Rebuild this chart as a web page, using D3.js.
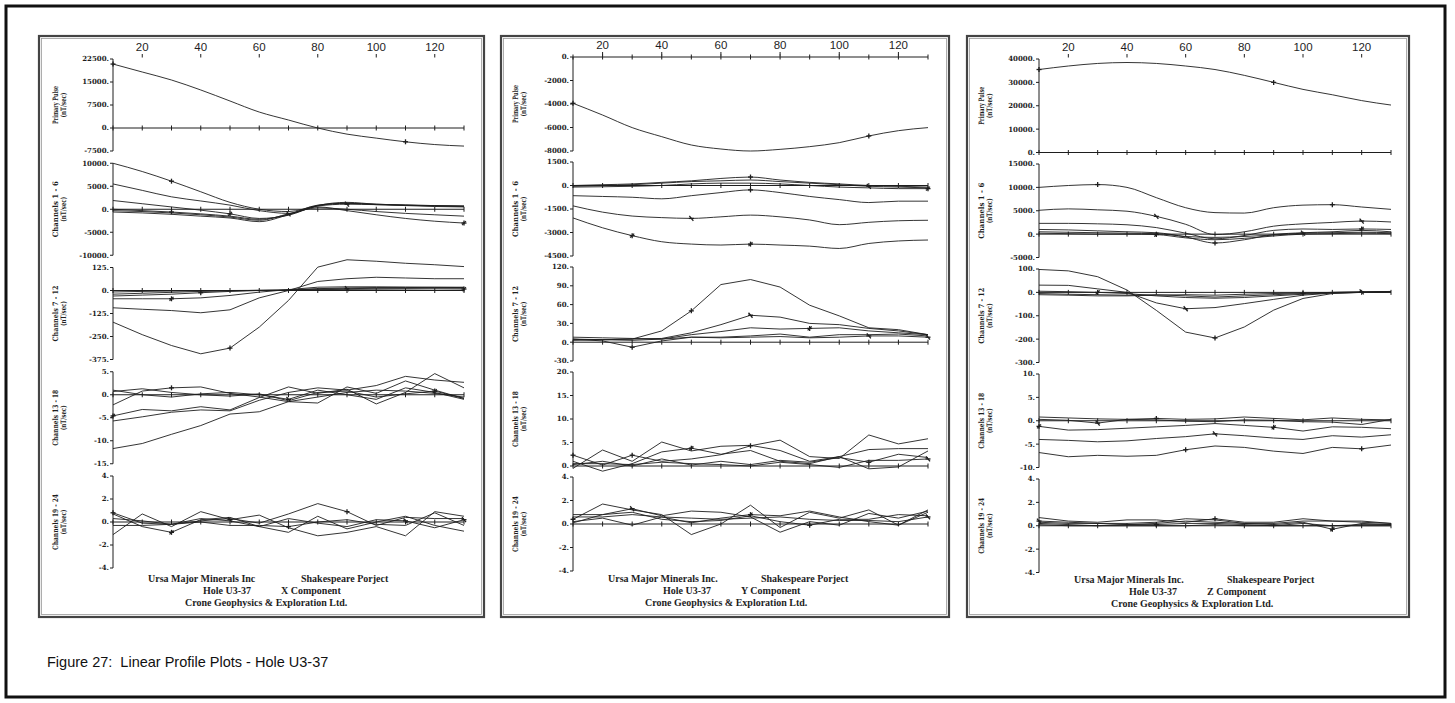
<!DOCTYPE html>
<html><head><meta charset="utf-8">
<script src="https://cdn.jsdelivr.net/npm/d3@7"></script>
<style>body{margin:0;background:#fff}svg{display:block}text{white-space:pre}</style>
</head><body><svg id="c" width="1455" height="703"></svg>
<script>
// ---------- DATA ----------
const stations = [10,20,30,40,50,60,70,80,90,100,110,120,130];
const xTickValues = [20,40,60,80,100,120];
const subplotNames = ["Primary Pulse","Channels 1 - 6","Channels 7 - 12","Channels 13 - 18","Channels 19 - 24"];
const unitLabel = "(nT/sec)";
const componentNames = ["X Component","Y Component","Z Component"];
const companyNames = ["Ursa Major Minerals Inc","Ursa Major Minerals Inc.","Ursa Major Minerals Inc."];
const projectName = "Shakespeare Porject";
const holeName = "Hole U3-37";
const contractorName = "Crone Geophysics & Exploration Ltd.";
const figureCaption = "Figure 27:  Linear Profile Plots - Hole U3-37";

// y tick values per subplot (X, Y, Z components)
const xYTicks = [[22500,15000,7500,0,-7500],[10000,5000,0,-5000,-10000],[125,0,-125,-250,-375],[5,0,-5,-10,-15],[4,2,0,-2,-4]];
const yYTicks = [[0,-2000,-4000,-6000,-8000],[1500,0,-1500,-3000,-4500],[120,90,60,30,0,-30],[20,15,10,5,0],[4,2,0,-2,-4]];
const zYTicks = [[40000,30000,20000,10000,0],[15000,10000,5000,0,-5000],[100,0,-100,-200,-300],[10,5,0,-5,-10],[4,2,0,-2,-4]];

// ----- X component -----
const xPrimary = [[20850,18260,15650,12400,8800,5200,2600,0,-2000,-3300,-4500,-5400,-5900]];
const xPrimaryMarks = [[0,10]];
const xCh1to6 = [
  [10000,8200,6100,3800,1500,0,-500,800,1300,1100,900,800,700],
  [5500,4100,2700,1800,900,-300,-900,700,1100,1000,900,800,700],
  [1900,1200,500,-200,-1000,-2000,-1300,800,1500,1100,900,700,600],
  [0,-300,-600,-1000,-1500,-2200,-1100,900,1300,1000,800,600,500],
  [-300,-500,-800,-1200,-1700,-2400,-1000,300,0,-500,-900,-1200,-1500],
  [-600,-800,-1100,-1500,-1900,-2700,-1200,500,-300,-1200,-2000,-2600,-3000]];
const xCh1to6Marks = [[2],[8],[4],[2],[6],[12]];
const xCh7to12 = [
  [-172,-240,-299,-344,-313,-199,-54,127,167,159,148,140,130],
  [-94,-102,-109,-121,-105,-40,0,49,64,72,68,64,64],
  [-45,-45,-45,-40,-27,-9,5,18,20,20,19,18,18],
  [-30,-25,-20,-12,-5,0,3,10,14,16,16,17,16],
  [-20,-15,-10,-5,-2,1,2,8,10,12,12,14,13],
  [-8,-5,-3,-2,0,1,2,5,6,7,8,9,8]];
const xCh7to12Marks = [[4],[],[2],[3],[8],[12]];
const xCh13to18 = [
  [-11.7,-10.6,-8.6,-6.7,-4.2,-3.7,-1.5,-0.5,0.5,1.0,0.8,0.3,-0.5],
  [-5.7,-4.8,-3.8,-3.3,-3.5,-1.2,0.5,1.5,1.0,2.0,4.0,3.2,2.7],
  [-4.6,-3.2,-3.5,-2.6,-3.3,-0.6,1.7,0.3,1.2,-2.0,0.5,4.6,1.5],
  [-2.2,0.8,1.5,1.7,0.3,-0.5,-1.5,-1.8,1.7,0.3,3.0,1.0,-0.8],
  [1.0,0.0,-0.5,0.2,0.5,0.0,-1.0,1.0,0.0,-1.0,1.5,0.5,-1.0],
  [0.7,1.3,0.5,0.0,-0.3,0.2,-1.3,0.5,0.8,-0.5,0.2,0.8,-0.8]];
const xCh13to18Marks = [[],[],[0],[2],[6],[11]];
const xCh19to24 = [
  [0.8,-0.1,-0.2,0.1,0.3,-0.1,0.7,1.6,0.9,-0.3,0.4,0.3,0.3],
  [-1.1,0.7,-0.4,0.9,0.2,0.6,-0.5,-1.2,-0.9,-0.4,-1.2,0.9,0.5],
  [0.7,-0.4,-0.9,0.2,0.4,-0.4,-0.9,0.5,-0.6,0.0,0.5,-0.3,-0.8],
  [0.3,0.1,-0.2,0.0,-0.3,-0.3,-0.4,0.0,0.2,-0.2,-0.3,0.8,-0.3],
  [-0.3,-0.3,-0.2,0.3,0.1,-0.4,0.3,-0.1,-0.4,0.2,0.1,-0.5,0.2]];
const xCh19to24Marks = [[0,8],[4],[2],[6],[10,12]];

// ----- Y component -----
const yPrimary = [[-3940,-4940,-6010,-6780,-7490,-7830,-8000,-7860,-7630,-7290,-6720,-6270,-6010]];
const yPrimaryMarks = [[0,10]];
const yCh1to6 = [
  [0,50,100,200,300,450,540,350,200,100,0,-50,-100],
  [-50,0,50,150,250,300,350,250,150,50,-50,-100,-150],
  [-100,-80,-50,0,100,150,150,100,0,-100,-150,-200,-200],
  [-650,-700,-750,-850,-650,-450,-280,-450,-700,-900,-1090,-1000,-1000],
  [-1300,-1700,-1950,-2050,-2100,-2000,-1890,-2000,-2200,-2500,-2350,-2250,-2220],
  [-2070,-2700,-3200,-3590,-3740,-3800,-3740,-3800,-3870,-4020,-3700,-3540,-3480]];
const yCh1to6Marks = [[6],[10],[12],[6],[4],[2,6]];
const yCh7to12 = [
  [4,4,5,18,50,92,100,88,59,42,23,20,12],
  [5,4,5,6,15,28,43,40,30,28,22,18,12],
  [8,7,6,5,12,17,23,21,22,23,18,15,12],
  [5,2,-8,2,8,8,10,13,8,12,12,13,10],
  [3,4,3,5,8,7,8,9,7,8,10,10,8]];
const yCh7to12Marks = [[4],[6],[8],[2],[10,12]];
const yCh13to18 = [
  [2.3,0.2,2.3,1.0,1.5,2.4,4.3,5.5,2.0,1.6,6.6,4.7,5.8],
  [-0.5,3.4,1.0,5.1,3.2,4.2,4.4,3.3,1.0,2.0,3.5,3.7,3.7],
  [1.0,-1.1,0.5,3.0,3.8,2.5,3.3,1.0,0.5,2.0,-0.6,-0.2,3.2],
  [0.3,1.0,0.0,1.5,0.2,1.0,0.3,1.2,0.8,1.8,0.8,2.5,1.8],
  [0.5,0.5,0.3,0.8,0.5,0.3,0.0,0.8,0.3,-0.3,1.2,1.2,1.5]];
const yCh13to18Marks = [[0,2,6],[],[4],[10],[12]];
const yCh19to24 = [
  [0.4,1.7,1.2,0.8,-0.9,0.0,1.6,-0.3,1.0,0.5,1.2,-0.1,1.2],
  [0.8,0.8,1.3,0.7,1.1,1.0,0.6,-0.7,0.2,-0.1,0.9,0.5,1.1],
  [0.2,0.5,-0.1,0.6,0.1,0.5,0.8,0.7,1.1,0.6,0.2,-0.1,1.0],
  [0.1,0.8,1.0,0.4,0.2,0.3,0.7,0.2,-0.1,0.4,0.4,0.8,0.7],
  [0.6,0.6,0.8,0.6,0.5,0.4,0.5,0.6,0.4,0.3,0.3,0.2,0.6]];
const yCh19to24Marks = [[0],[2],[6],[8],[12]];

// ----- Z component -----
const zPrimary = [[35500,37000,38100,38500,38100,37000,35500,33000,30000,27000,24700,22200,20300]];
const zPrimaryMarks = [[0,8]];
const zCh1to6 = [
  [10000,10400,10600,10000,7800,5650,4600,4500,5650,6200,6300,5800,5300],
  [5100,5400,5200,4900,3800,2100,-100,500,1700,2200,2500,2800,2600],
  [2300,2300,2200,2000,1400,200,-1000,-300,800,1100,1000,1100,1000],
  [1000,900,700,500,300,-600,-1900,-1200,-100,300,500,800,500],
  [500,400,300,200,100,-500,-700,-500,-200,200,300,400,300],
  [200,100,0,0,-100,-800,-1200,-900,-400,0,100,200,100]];
const zCh1to6Marks = [[2,10],[4,11],[11],[6],[9],[4]];
const zCh7to12 = [
  [98,92,67,10,-77,-170,-195,-148,-76,-26,-5,0,3],
  [31,30,15,0,-45,-70,-65,-48,-30,-12,-3,0,2],
  [5,3,0,-5,-15,-22,-25,-22,-15,-8,-2,0,2],
  [-5,-8,-10,-12,-10,-15,-20,-15,-10,-5,0,2,4],
  [-10,-12,-15,-15,-12,-10,-12,-8,-5,-3,0,2,3]];
const zCh7to12Marks = [[6],[5],[2],[9],[11]];
const zCh13to18 = [
  [-6.8,-7.7,-7.4,-7.6,-7.4,-6.2,-5.4,-5.7,-6.5,-7.0,-5.7,-6.0,-5.2],
  [-4.0,-4.2,-4.5,-4.3,-3.8,-3.4,-2.8,-3.2,-3.7,-4.0,-3.2,-3.5,-3.0],
  [-1.2,-2.0,-1.9,-1.6,-1.3,-1.0,-0.6,-1.0,-1.4,-2.2,-1.3,-1.4,-1.7],
  [0.8,0.6,0.4,0.3,0.5,0.3,0.4,0.8,0.5,0.2,0.6,0.3,0.2],
  [0.3,0.1,-0.5,0.3,0.2,-0.1,-0.2,0.2,0.1,-0.2,-0.3,-0.8,0.3]];
const zCh13to18Marks = [[5,11],[6],[0,8],[4],[2]];
const zCh19to24 = [
  [0.7,0.4,0.3,0.5,0.5,0.3,0.6,0.3,0.3,0.6,0.4,0.4,0.2],
  [0.4,0.3,0.2,0.2,0.3,0.6,0.5,0.2,0.2,0.4,0.4,0.3,0.2],
  [0.3,0.2,0.2,0.1,0.2,0.4,0.3,0.2,0.1,0.3,-0.3,0.2,0.1],
  [0.2,0.1,0.0,0.1,0.1,0.2,0.2,0.1,0.0,0.2,0.0,0.1,0.1],
  [0.1,0.0,0.0,0.0,0.0,0.0,0.1,0.0,0.0,0.0,0.0,0.0,0.0]];
const zCh19to24Marks = [[6],[0],[10],[4],[]];

// ---------- DRAW ----------
const svg = d3.select("#c");
const INK = "#1e1e1e";

const panels = [
  {comp: componentNames[0], company: companyNames[0], ticks: xYTicks,
   data: [xPrimary,xCh1to6,xCh7to12,xCh13to18,xCh19to24],
   marks: [xPrimaryMarks,xCh1to6Marks,xCh7to12Marks,xCh13to18Marks,xCh19to24Marks],
   frame: [39,36,484,617], x0: 113, x1: 464, top: 59, step: 104.25, h: 92, ty: 0},
  {comp: componentNames[1], company: companyNames[1], ticks: yYTicks,
   data: [yPrimary,yCh1to6,yCh7to12,yCh13to18,yCh19to24],
   marks: [yPrimaryMarks,yCh1to6Marks,yCh7to12Marks,yCh13to18Marks,yCh19to24Marks],
   frame: [501,36,949,617], x0: 573, x1: 928, top: 57, step: 105, h: 94, ty: 0},
  {comp: componentNames[2], company: companyNames[2], ticks: zYTicks,
   data: [zPrimary,zCh1to6,zCh7to12,zCh13to18,zCh19to24],
   marks: [zPrimaryMarks,zCh1to6Marks,zCh7to12Marks,zCh13to18Marks,zCh19to24Marks],
   frame: [967,36,1409,617], x0: 1039, x1: 1391, top: 59, step: 105, h: 93.5, ty: 1}
];

// outer frame
svg.append("rect").attr("x",6).attr("y",6).attr("width",1439).attr("height",691)
  .attr("fill","none").attr("stroke","#111").attr("stroke-width",3);

svg.append("text").attr("x",47).attr("y",667).attr("xml:space","preserve")
  .attr("font-family","Liberation Sans, Arial, sans-serif").attr("font-size",14.5)
  .attr("fill","#111").text(figureCaption);

panels.forEach(p => {
  const g = svg.append("g");
  const [fx0, fy0, fx1, fy1] = p.frame;
  g.append("rect").attr("x",fx0).attr("y",fy0).attr("width",fx1-fx0).attr("height",fy1-fy0)
    .attr("fill","none").attr("stroke","#444").attr("stroke-width",2.2);
  g.append("rect").attr("x",fx0+2.5).attr("y",fy0+2.5).attr("width",fx1-fx0-5).attr("height",fy1-fy0-5)
    .attr("fill","none").attr("stroke","#999").attr("stroke-width",0.8);

  const x = d3.scaleLinear().domain([10,130]).range([p.x0,p.x1]);

  // top x axis
  const xa = g.append("g");
  xa.selectAll("line").data(xTickValues).join("line")
    .attr("x1",d=>x(d)).attr("x2",d=>x(d)).attr("y1",p.top-5).attr("y2",p.top-1.5)
    .attr("stroke",INK).attr("stroke-width",1);
  xa.selectAll("text").data(xTickValues).join("text")
    .attr("x",d=>x(d)).attr("y",p.top-8).attr("text-anchor","middle")
    .attr("font-family","Liberation Sans, Arial, sans-serif").attr("font-size",11.5)
    .attr("fill",INK).text(d=>d);

  p.data.forEach((series, i) => {
    const top = p.top + i*p.step, bot = top + p.h;
    const tv = p.ticks[i];
    const y = d3.scaleLinear().domain([d3.min(tv), d3.max(tv)]).range([bot, top]);
    const sg = g.append("g");

    // y axis
    sg.append("line").attr("x1",p.x0).attr("x2",p.x0).attr("y1",top).attr("y2",bot)
      .attr("stroke",INK).attr("stroke-width",1);
    sg.selectAll("line.tk").data(tv).join("line").attr("class","tk")
      .attr("x1",p.x0-3).attr("x2",p.x0).attr("y1",d=>y(d)).attr("y2",d=>y(d))
      .attr("stroke",INK).attr("stroke-width",1);
    sg.selectAll("text.tl").data(tv).join("text").attr("class","tl")
      .attr("x",p.x0-4).attr("y",d=>y(d)).attr("dy","0.35em").attr("text-anchor","end")
      .attr("font-family","DejaVu Serif, serif").attr("font-weight","bold").attr("font-size",7)
      .attr("fill",INK).text(d=>d+".");

    // axis title
    const cy = (top+bot)/2;
    const tl = i===0 ? 38 : 56;
    sg.append("text").attr("transform",`translate(${p.x0-58},${cy}) rotate(-90)`)
      .attr("text-anchor","middle").attr("dy","0.35em")
      .attr("font-family","DejaVu Serif, serif").attr("font-weight","bold").attr("font-size",7.5)
      .attr("textLength",tl).attr("lengthAdjust","spacingAndGlyphs")
      .attr("fill",INK).text(subplotNames[i]);
    sg.append("text").attr("transform",`translate(${p.x0-50},${cy}) rotate(-90)`)
      .attr("text-anchor","middle").attr("dy","0.35em")
      .attr("font-family","DejaVu Serif, serif").attr("font-weight","bold").attr("font-size",7.5)
      .attr("textLength",25).attr("lengthAdjust","spacingAndGlyphs")
      .attr("fill",INK).text(unitLabel);

    // zero reference line with station ticks
    sg.append("line").attr("x1",x(10)).attr("x2",x(130)).attr("y1",y(0)).attr("y2",y(0))
      .attr("stroke",INK).attr("stroke-width",1);
    sg.selectAll("line.zt").data(stations).join("line").attr("class","zt")
      .attr("x1",d=>x(d)).attr("x2",d=>x(d)).attr("y1",y(0)-2.5).attr("y2",y(0)+2.5)
      .attr("stroke",INK).attr("stroke-width",1);

    // series
    const line = d3.line().x((d,k)=>x(stations[k])).y(d=>y(d))
      .curve(i<2 ? d3.curveMonotoneX : d3.curveLinear);
    sg.selectAll("path.s").data(series).join("path").attr("class","s")
      .attr("d",line).attr("fill","none").attr("stroke",INK).attr("stroke-width",0.9)
      .attr("stroke-linejoin","round");

    // channel markers
    const mk = [];
    p.marks[i].forEach((idxs, si) => idxs.forEach(k => mk.push({x: x(stations[k]), y: y(series[si][k]), t: si%3})));
    const mg = sg.selectAll("g.m").data(mk).join("g").attr("class","m")
      .attr("transform",d=>`translate(${d.x},${d.y})`);
    mg.append("line").attr("x1",-2.5).attr("x2",2.5).attr("y1",0).attr("y2",0)
      .attr("stroke",INK).attr("stroke-width",1.3);
    mg.append("line").attr("x1",d=>d.t===1?-2:0).attr("x2",d=>d.t===1?2:0).attr("y1",-2.5).attr("y2",2.5)
      .attr("stroke",INK).attr("stroke-width",1.3);
    mg.filter(d=>d.t===2).append("line").attr("x1",-2).attr("x2",2).attr("y1",2).attr("y2",-2)
      .attr("stroke",INK).attr("stroke-width",1.1);
  });

  // footer text
  const ft = (txt, dx, yy) => g.append("text").attr("x",p.x0+dx).attr("y",yy+p.ty)
    .attr("font-family","Liberation Serif, serif").attr("font-weight","bold").attr("font-size",10)
    .attr("fill",INK).text(txt);
  ft(p.company, 35, 582);
  ft(projectName, 188, 582);
  ft(holeName, 90, 594);
  ft(p.comp, 168, 594);
  ft(contractorName, 72, 606);
});
</script>
</body></html>
